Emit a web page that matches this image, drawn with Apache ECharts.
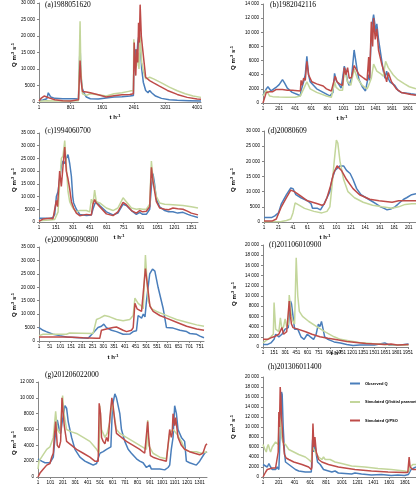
<!DOCTYPE html>
<html><head><meta charset="utf-8">
<script src="https://cdn.jsdelivr.net/npm/echarts@6/dist/echarts.min.js"></script>
<style>html,body{margin:0;padding:0;background:#fff}#c{width:416px;height:485px}</style>
</head><body><div id="c"></div>
<script>
const seriesNames = ['Observed Q', 'Simulated Q/Initial parameters', 'Simulated Q/PSO'];
const panelTitles = ['(a)1988051620', '(b)1982042116', '(c)1994060700', '(d)20080609', '(e)200906090800', '(f)201106010900', '(g)201206022000', '(h)201306011400'];
const yMaxes = [30000, 14000, 35000, 30000, 35000, 20000, 12000, 20000];
const ySteps = [5000, 2000, 5000, 5000, 5000, 2000, 2000, 2000];
const xMaxes = [4100, 1901, 1410, 211, 770, 1960, 1360, 1940];
const xSteps = [800, 200, 150, 20, 50, 150, 100, 200];

// (a)
const obsA = [[1,500],[100,600],[200,1000],[236,2800],[300,1500],[400,1100],[600,1000],[900,1000],[1000,900],[1030,1000],[1040,17700],[1060,8000],[1100,4000],[1150,2500],[1200,1500],[1300,1000],[1500,900],[1700,1200],[1900,1500],[2100,1600],[2300,1800],[2390,2000],[2400,10000],[2440,16000],[2470,12000],[2500,18000],[2540,21000],[2570,16000],[2600,10000],[2640,6000],[2700,3500],[2760,2800],[2800,3500],[2850,2800],[2950,1800],[3100,1100],[3300,700],[3500,500],[3800,400],[4100,300]];
const iniA = [[1,200],[200,400],[400,300],[800,300],[1000,400],[1030,600],[1040,24500],[1060,10000],[1100,2500],[1150,3000],[1200,2000],[1300,2500],[1500,2200],[1700,1800],[1900,2500],[2100,2800],[2300,3300],[2390,3500],[2400,19000],[2430,10000],[2470,11000],[2500,15000],[2530,10000],[2560,20000],[2600,12000],[2650,9000],[2700,7000],[2800,7500],[2900,7000],[3100,5800],[3300,4500],[3500,3400],[3700,2500],[3900,1800],[4100,1400]];
const psoA = [[1,300],[60,1200],[130,1800],[250,1300],[400,700],[600,400],[800,300],[1000,700],[1030,900],[1040,12600],[1070,6000],[1100,3200],[1200,3000],[1300,2800],[1500,2200],[1700,1500],[1900,1900],[2100,2200],[2300,2300],[2390,2500],[2410,18000],[2430,12000],[2450,8000],[2470,16000],[2500,12000],[2520,24000],[2540,18000],[2560,29500],[2590,20000],[2620,16500],[2660,12000],[2700,7500],[2800,6500],[2900,5800],[3050,4800],[3250,3500],[3500,2300],[3750,1400],[4000,900],[4100,800]];
// (b)
const obsB = [[1,1100],[42,2000],[62,2300],[82,2300],[101,1700],[122,1900],[162,2200],[202,2600],[243,3300],[270,2800],[303,2100],[364,1500],[430,1200],[465,1000],[474,1800],[485,2200],[506,3000],[526,4000],[546,6600],[567,4000],[587,3000],[668,2000],[749,1500],[830,1000],[850,800],[870,1500],[890,4200],[910,3200],[951,2500],[971,2100],[990,3500],[1011,5200],[1030,4500],[1052,3000],[1072,2500],[1100,3500],[1133,7500],[1153,6000],[1173,4500],[1193,3300],[1234,2300],[1274,1700],[1294,1500],[1314,4000],[1326,3200],[1340,8000],[1355,11000],[1375,12500],[1395,10800],[1403,10000],[1415,11200],[1436,9000],[1476,6000],[1496,4500],[1516,3500],[1537,4500],[1557,3500],[1577,3000],[1638,2500],[1677,1800],[1718,1500],[1839,1300],[1901,1200]];
const iniB = [[1,1000],[42,1800],[82,1000],[122,900],[202,850],[303,800],[400,800],[465,1000],[506,2000],[546,3000],[587,2000],[668,1500],[789,1000],[850,800],[890,3000],[910,2200],[951,1800],[990,1800],[1011,4700],[1052,3000],[1092,2500],[1133,4800],[1173,3500],[1234,2500],[1294,2000],[1314,2500],[1347,3500],[1375,5500],[1415,4500],[1456,4200],[1496,3800],[1524,5900],[1557,5000],[1617,4000],[1677,3300],[1759,2700],[1819,2300],[1901,2000]];
const psoB = [[1,0],[42,1500],[62,1600],[82,1600],[101,1700],[122,1600],[162,1900],[202,1900],[243,1900],[303,1800],[364,1800],[465,1700],[474,3200],[485,2500],[506,3500],[526,3200],[546,5900],[567,4000],[607,3000],[668,2700],[749,2400],[789,2000],[850,1700],[870,1500],[898,3800],[920,3000],[951,2700],[990,2500],[1011,5000],[1030,4000],[1052,5000],[1072,3500],[1100,3600],[1133,5300],[1193,4000],[1254,3500],[1294,3200],[1314,6500],[1326,3500],[1347,11500],[1363,8000],[1375,12000],[1395,9000],[1415,10500],[1436,7500],[1476,5500],[1516,4000],[1537,3000],[1557,4300],[1597,3000],[1657,2000],[1718,1500],[1839,1200],[1901,1100]];
// (c)
const obsC = [[1,1500],[66,1500],[96,1400],[125,1800],[140,3000],[155,10000],[170,12000],[184,17000],[199,22000],[214,24000],[229,23000],[243,25000],[258,26500],[273,23000],[288,18000],[300,10000],[308,7500],[332,5000],[362,3000],[421,2600],[465,2800],[479,5000],[494,7000],[509,8000],[539,6500],[598,4000],[657,2800],[700,3500],[746,7000],[775,6500],[820,4500],[864,3000],[893,3800],[920,3000],[952,3000],[982,5000],[997,14000],[1011,19000],[1025,15000],[1041,9000],[1070,6000],[1115,4500],[1150,4000],[1188,4000],[1230,3500],[1277,3800],[1320,3000],[1351,2500],[1410,1800]];
const iniC = [[1,500],[96,800],[140,1000],[155,1500],[170,4000],[184,15000],[199,25000],[214,26000],[229,32000],[243,22000],[258,12000],[273,8000],[288,6500],[308,5000],[332,4000],[362,4500],[421,4500],[450,4000],[465,9000],[479,7000],[494,12500],[509,8000],[539,7500],[598,5500],[657,4500],[700,5500],[746,9500],[775,8000],[820,5500],[864,5000],[893,5200],[920,5000],[952,5000],[982,7000],[997,24000],[1011,17000],[1041,10000],[1070,7500],[1115,7000],[1188,6800],[1277,6500],[1351,6000],[1410,5500]];
const psoC = [[1,300],[40,1200],[96,1500],[125,1300],[140,1800],[155,8500],[165,6000],[184,20000],[199,14000],[214,22000],[229,29500],[243,20000],[258,17000],[273,13000],[288,8000],[308,5500],[332,3500],[362,2500],[421,3000],[465,2800],[479,7000],[494,8800],[509,7500],[539,6000],[598,3200],[657,2500],[700,4000],[746,7700],[775,6800],[820,4500],[864,3500],[893,4500],[920,4000],[952,4200],[982,6000],[997,21500],[1011,16000],[1041,8000],[1070,5500],[1115,5000],[1150,4800],[1188,5500],[1230,5200],[1277,5000],[1320,4200],[1351,3500],[1410,2800]];
// (d)
const obsD = [[1,1500],[12,1500],[16,2000],[21,3000],[25,6000],[32,9000],[38,11200],[41,11000],[45,9000],[52,8000],[61,7000],[66,6000],[68,4500],[70,5000],[75,4500],[79,4000],[81,4200],[84,6000],[88,8000],[92,10000],[95,14000],[99,17000],[106,18500],[111,18500],[115,17000],[120,16000],[124,14000],[129,11000],[135,9000],[142,8000],[149,7000],[156,6000],[162,5000],[167,4500],[171,4000],[176,4300],[182,5000],[189,6500],[194,7500],[198,8000],[205,9000],[211,9300]];
const iniD = [[1,100],[25,200],[32,500],[38,1000],[41,3000],[44,6300],[50,5500],[57,4500],[70,3500],[81,3000],[88,3500],[92,5000],[95,12000],[98,20000],[101,27000],[103,26000],[106,20000],[111,14000],[117,10000],[126,8000],[138,6500],[151,5500],[164,5000],[178,4500],[187,5000],[196,5800],[205,6000],[211,6000]];
const psoD = [[1,300],[12,300],[18,1000],[25,5000],[32,8000],[38,10500],[40,11000],[43,10000],[52,8500],[61,7000],[75,6000],[81,5500],[84,5800],[88,8000],[93,12000],[97,16000],[102,18500],[103,19000],[108,17000],[115,14000],[124,11000],[133,9000],[147,7500],[160,7000],[178,6500],[187,7000],[205,7000],[211,7000]];
// (e)
const obsE = [[1,5000],[20,4000],[35,3500],[66,2500],[97,2000],[129,1500],[191,1200],[230,1000],[253,3000],[276,5000],[292,5500],[303,6300],[315,5000],[339,4000],[362,3500],[393,2500],[424,2600],[440,3500],[455,3800],[463,9500],[479,8500],[487,10000],[495,9000],[502,15000],[517,25000],[530,26800],[541,26000],[556,20000],[580,12000],[595,5000],[626,4800],[658,4000],[689,3500],[704,2800],[736,2500],[751,1800],[770,1200]];
const iniE = [[1,2000],[20,2500],[129,2500],[144,3000],[253,2800],[261,3000],[269,8000],[284,8500],[292,9000],[307,9500],[331,9000],[362,8000],[393,7500],[424,8000],[440,9500],[448,16000],[463,14000],[479,13000],[487,12000],[497,32000],[510,15000],[525,12000],[549,11000],[580,10000],[611,9000],[642,8000],[689,7000],[736,6000],[770,5500]];
const psoE = [[1,1500],[129,1500],[206,1200],[269,1000],[284,1000],[292,4000],[315,4500],[346,5000],[362,5200],[393,4000],[409,3500],[432,4000],[440,5000],[448,14000],[458,12000],[479,11000],[487,10500],[497,27000],[518,13000],[533,11000],[564,9500],[595,8500],[642,7000],[689,5500],[736,4500],[770,4000]];
// (f)
const obsF = [[1,500],[65,500],[107,800],[129,600],[150,1500],[171,2500],[214,2000],[256,2500],[299,3500],[341,3800],[354,3500],[371,9000],[384,8500],[397,7000],[414,5000],[426,3500],[469,3500],[512,2000],[554,1500],[597,2500],[639,2000],[682,1500],[716,2500],[746,4500],[767,4000],[788,5000],[810,3500],[831,2000],[874,1500],[958,1000],[1043,800],[1065,1000],[1128,500],[1214,300],[1300,400],[1500,400],[1640,800],[1700,400],[1850,400],[1960,600]];
const iniF = [[1,800],[65,1500],[107,2000],[140,2500],[150,8700],[171,3500],[214,3000],[235,5700],[256,3500],[278,4000],[299,5500],[320,4000],[341,4500],[354,10200],[371,8000],[384,6000],[405,5000],[426,4500],[448,17500],[469,10000],[490,7000],[533,6000],[618,5000],[724,4000],[831,3000],[958,2000],[1043,1500],[1065,1200],[1171,1200],[1299,900],[1469,700],[1640,500],[1809,400],[1960,400]];
const psoF = [[1,1500],[22,1800],[65,1500],[107,1800],[150,2000],[214,2500],[235,2500],[256,3800],[278,2500],[320,3000],[341,3000],[354,9000],[371,6000],[384,4500],[405,3800],[469,3500],[575,3000],[660,2500],[767,2000],[874,1700],[1001,1400],[1128,1100],[1256,900],[1384,700],[1512,600],[1640,500],[1724,600],[1809,400],[1960,500]];
// (g)
const obsG = [[1,2300],[30,2000],[57,1800],[97,1800],[111,1800],[124,2500],[132,4000],[142,5500],[156,7200],[172,6000],[183,5500],[196,7000],[218,9000],[231,8700],[244,7000],[271,5000],[298,3500],[338,2500],[378,2000],[405,1800],[445,1500],[472,1700],[485,1500],[498,3000],[525,3200],[552,3500],[587,3800],[600,9000],[619,10500],[632,10000],[659,8000],[672,6000],[699,4500],[726,3500],[752,3000],[793,2300],[819,2000],[846,1800],[873,1200],[899,1500],[913,1000],[980,1000],[1020,900],[1033,800],[1047,1200],[1060,1500],[1073,3500],[1087,5000],[1100,9000],[1114,8000],[1127,6000],[1154,5000],[1180,4500],[1194,2000],[1220,1800],[1234,2000],[1274,1500],[1301,2000],[1341,3000],[1360,3200]];
const iniG = [[1,1000],[9,2000],[30,2500],[71,3500],[97,3800],[111,4000],[124,5000],[143,8300],[156,6000],[178,5500],[186,7000],[199,10300],[210,8000],[231,6000],[271,5700],[311,5500],[365,5000],[418,4500],[445,4000],[472,3500],[493,3000],[498,9000],[512,6000],[539,5000],[557,5500],[579,7000],[595,9500],[611,8000],[632,6000],[659,5500],[712,5000],[766,4500],[819,4000],[873,3500],[883,7200],[891,4000],[926,3000],[980,2500],[1033,2300],[1060,5500],[1087,6000],[1114,5500],[1154,4500],[1180,3500],[1220,3200],[1274,3200],[1314,3000],[1360,3200]];
const psoG = [[1,0],[17,500],[44,1000],[71,1500],[97,1700],[111,2500],[124,3000],[132,5000],[143,7000],[156,4000],[170,3700],[183,4500],[194,10000],[204,8000],[212,6500],[231,4500],[271,4000],[311,3500],[365,3000],[418,2500],[458,2000],[485,2000],[493,9300],[504,8000],[512,5000],[525,4500],[539,4200],[552,5000],[565,4500],[579,7500],[595,10000],[605,9000],[619,7000],[632,5500],[672,5000],[712,4500],[766,4000],[819,3500],[859,3000],[873,2800],[883,7000],[891,5000],[905,2700],[926,2500],[980,2200],[1033,2000],[1047,2200],[1060,6000],[1073,5000],[1080,5500],[1087,8000],[1100,6500],[1108,7500],[1127,5000],[1154,4000],[1180,3500],[1220,3200],[1260,3000],[1301,2800],[1327,3000],[1349,4000],[1360,4200]];
// (h)
const obsH = [[1,2500],[22,2800],[55,2000],[76,2700],[97,2000],[118,1500],[160,1500],[181,2000],[202,1500],[210,5000],[223,12000],[236,17000],[244,16500],[257,10000],[273,5000],[286,3000],[328,2500],[370,2000],[412,1500],[454,1200],[537,1000],[613,1000],[630,7500],[642,5000],[655,7000],[671,5000],[692,3000],[726,2500],[768,1500],[789,1500],[831,1200],[873,1000],[914,1200],[956,800],[1040,700],[1124,600],[1166,800],[1250,600],[1375,400],[1501,500],[1627,300],[1711,400],[1794,300],[1844,500],[1878,1500],[1940,2000]];
const iniH = [[1,6500],[26,5500],[43,5000],[55,6000],[68,6500],[85,5500],[97,5000],[118,6000],[160,7000],[181,7000],[194,6500],[210,12500],[223,11000],[236,8000],[252,7000],[286,6500],[328,5500],[391,5000],[454,4500],[537,4000],[579,3500],[613,3000],[630,6000],[663,5000],[705,4000],[747,3500],[768,4000],[789,3500],[852,3500],[914,3000],[998,2700],[1124,2200],[1292,2000],[1459,1700],[1627,1500],[1794,1200],[1844,1000],[1869,2000],[1899,2500],[1940,2500]];
const psoH = [[1,0],[35,1000],[55,1500],[118,1800],[160,1800],[181,2000],[194,5000],[202,13000],[210,10000],[219,18000],[227,16000],[236,12000],[252,8000],[273,4500],[294,3800],[328,3500],[391,3000],[495,2500],[579,2000],[613,1500],[621,2000],[634,10700],[646,6000],[659,8000],[676,5000],[705,3500],[747,3000],[831,2500],[956,2000],[1166,1500],[1375,1200],[1585,1000],[1794,900],[1836,900],[1853,4000],[1865,2000],[1899,1500],[1940,1500]];

const obsAll = [obsA, obsB, obsC, obsD, obsE, obsF, obsG, obsH];
const iniAll = [iniA, iniB, iniC, iniD, iniE, iniF, iniG, iniH];
const psoAll = [psoA, psoB, psoC, psoD, psoE, psoF, psoG, psoH];

// layout (pixels)
const grids = [
  {left:39, top:3, width:162, height:99},
  {left:263, top:4, width:157, height:99},
  {left:39, top:133, width:159, height:89},
  {left:264, top:131, width:155, height:91},
  {left:39, top:247, width:165, height:94},
  {left:263, top:245, width:153, height:102},
  {left:38, top:382, width:169, height:95},
  {left:263, top:377, width:154, height:101}
];
const titlePos = [[45,5],[270,5],[45,131],[268,131],[45,240],[269,245],[45,375],[268,367]];
const xNamePos = [[115,117],[342,118],[119,237],[325,237],[113,357],[336,353],null,null];
const yNamePos = [[14,55],[233,58],[14,180],[233,180],[14,305],[234,294],[14,443],[233,427]];
const colors = ['#4a7ebb', '#c3d69b', '#be4b48'];

const fmtY = v => v >= 10000 ? (Math.floor(v / 1000) + ' ' + String(v % 1000).padStart(3, '0')) : String(v);
const fmtX = v => String(Math.round(v));
const axisCol = '#868686';
const tickFont = {fontSize: 4.6, color: '#000', fontFamily: 'Liberation Sans, Arial, sans-serif'};

const option = {animation: false, backgroundColor: '#fff', grid: [], xAxis: [], yAxis: [], series: [], graphic: []};
const rich = {
  b: {fontSize: 6, fontWeight: 'bold', fontFamily: 'Liberation Sans, Arial, sans-serif', fill: '#000', color:'#000', verticalAlign: 'bottom'},
  s: {fontSize: 4, fontWeight: 'bold', fontFamily: 'Liberation Sans, Arial, sans-serif', fill: '#000', color:'#000', verticalAlign: 'top'}
};
for (let i = 0; i < 8; i++) {
  option.grid.push(Object.assign({containLabel: false}, grids[i]));
  option.xAxis.push({
    type: 'value', gridIndex: i, min: 1, max: xMaxes[i], interval: xSteps[i],
    axisLine: {show: true, onZero: false, lineStyle: {color: axisCol, width: 1}},
    axisTick: {show: true, length: 2, lineStyle: {color: axisCol}},
    splitLine: {show: false},
    axisLabel: Object.assign({margin: 3, showMaxLabel: false, hideOverlap: false, formatter: fmtX}, tickFont)
  });
  option.yAxis.push({
    type: 'value', gridIndex: i, min: 0, max: yMaxes[i], interval: ySteps[i],
    axisLine: {show: true, lineStyle: {color: axisCol, width: 1}},
    axisTick: {show: true, length: 2, lineStyle: {color: axisCol}},
    splitLine: {show: false},
    axisLabel: Object.assign({margin: 4, formatter: fmtY}, tickFont)
  });
  [obsAll[i], iniAll[i], psoAll[i]].forEach((d, k) => {
    option.series.push({
      type: 'line', name: seriesNames[k], xAxisIndex: i, yAxisIndex: i, data: d,
      showSymbol: false, symbol: 'none', silent: true, clip: true,
      color: colors[k], itemStyle: {color: colors[k]},
      lineStyle: {width: 1.5, color: colors[k]}
    });
  });
  option.graphic.push({
    type: 'text', x: titlePos[i][0], y: titlePos[i][1], silent: true,
    style: {text: panelTitles[i], fontSize: 7.5, fontFamily: 'Liberation Serif, Times New Roman, serif', fill: '#000',
      align: 'left', verticalAlign: 'middle', textAlign: 'left', textVerticalAlign: 'middle'}
  });
  if (xNamePos[i]) option.graphic.push({
    type: 'text', x: xNamePos[i][0], y: xNamePos[i][1], silent: true,
    style: {text: '{b|t h}{s|-1}', rich: rich, fill: '#000', align: 'center', verticalAlign: 'middle', textAlign: 'center', textVerticalAlign: 'middle'}
  });
  option.graphic.push({
    type: 'text', x: yNamePos[i][0], y: yNamePos[i][1], rotation: Math.PI / 2, silent: true,
    style: {text: '{b|Q m}{s|-3}{b| s}{s|-1}', rich: rich, fill: '#000', align: 'center', verticalAlign: 'middle', textAlign: 'center', textVerticalAlign: 'middle'}
  });
}
option.legend = {
  data: seriesNames, orient: 'vertical', left: 350, top: 381, padding: 0,
  itemWidth: 10, itemHeight: 2, itemGap: 13.5, icon: 'rect', selectedMode: false,
  textStyle: {fontSize: 4, fontWeight: 'bold', color: '#000', fontFamily: 'Liberation Sans, Arial, sans-serif', lineHeight: 5}
};
const chart = echarts.init(document.getElementById('c'), null, {renderer: 'canvas'});
chart.setOption(option);
</script>
</body></html>
